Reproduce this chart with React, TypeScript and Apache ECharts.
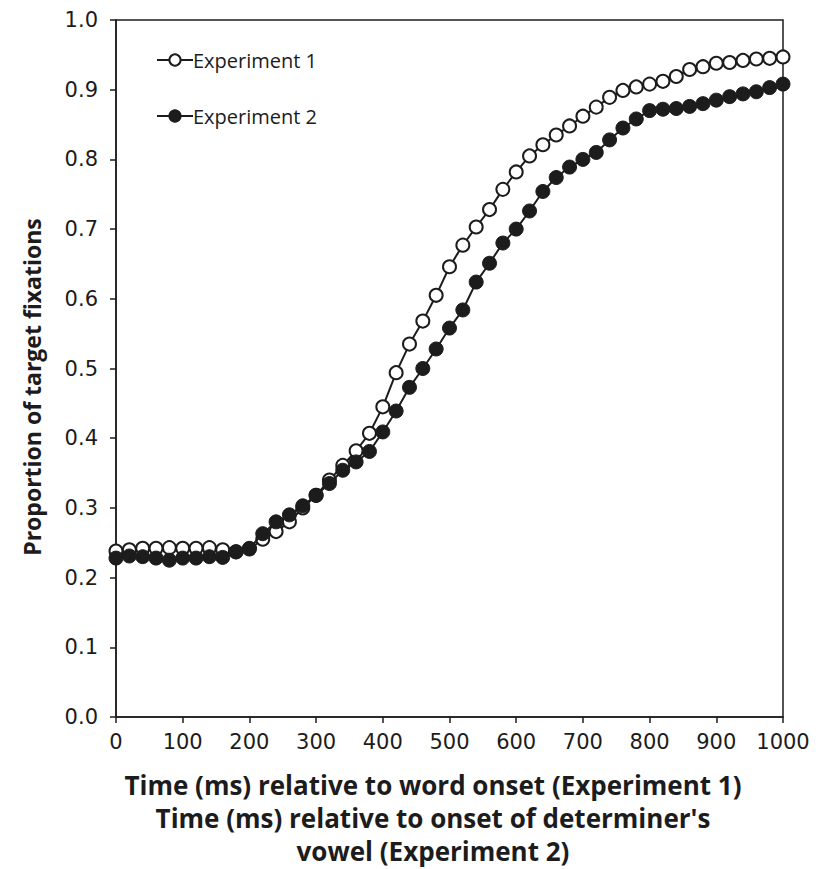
import React, { useEffect, useRef } from "react";
import * as echarts from "echarts";

const times: number[] = [
  0, 20, 40, 60, 80, 100, 120, 140, 160, 180, 200, 220, 240, 260, 280, 300, 320, 340, 360, 380,
  400, 420, 440, 460, 480, 500, 520, 540, 560, 580, 600, 620, 640, 660, 680, 700, 720, 740, 760, 780,
  800, 820, 840, 860, 880, 900, 920, 940, 960, 980, 1000,
];

const experiment1: number[] = [
  0.238, 0.240, 0.242, 0.242, 0.243, 0.242, 0.242, 0.243, 0.240, 0.237, 0.241, 0.255, 0.266, 0.280,
  0.300, 0.318, 0.340, 0.361, 0.382, 0.407, 0.445, 0.494, 0.535, 0.568, 0.605, 0.646, 0.677, 0.703,
  0.728, 0.757, 0.782, 0.805, 0.821, 0.835, 0.848, 0.862, 0.875, 0.889, 0.899, 0.904, 0.908, 0.912,
  0.919, 0.929, 0.933, 0.938, 0.939, 0.942, 0.944, 0.945, 0.947,
];

const experiment2: number[] = [
  0.228, 0.231, 0.230, 0.228, 0.225, 0.228, 0.228, 0.230, 0.229, 0.237, 0.242, 0.263, 0.280, 0.290,
  0.303, 0.318, 0.335, 0.354, 0.366, 0.381, 0.409, 0.439, 0.473, 0.500, 0.528, 0.558, 0.584, 0.624,
  0.651, 0.680, 0.700, 0.726, 0.754, 0.774, 0.789, 0.800, 0.810, 0.828, 0.845, 0.858, 0.870, 0.872,
  0.873, 0.876, 0.880, 0.885, 0.890, 0.894, 0.897, 0.903, 0.908,
];

const seriesNames: string[] = ["Experiment 1", "Experiment 2"];
const xAxisTitle = "Time (ms) relative to word onset (Experiment 1)\nTime (ms) relative to onset of determiner's\nvowel (Experiment 2)";
const yAxisTitle = "Proportion of target fixations";

const INK = "#1c1c1c";

export default function App() {
  const ref = useRef<HTMLDivElement>(null);
  useEffect(() => {
    if (!ref.current) return;
    const chart = echarts.init(ref.current, undefined, { renderer: "svg" });
    const pairs = (vals: number[]) => times.map((t, i) => [t, vals[i]]);
    chart.setOption({
      animation: false,
      backgroundColor: "#ffffff",
      grid: {
        left: 116,
        right: 44,
        top: 20,
        bottom: 152,
        show: true,
        borderColor: INK,
        borderWidth: 1.5,
        backgroundColor: "transparent",
      },
      legend: {
        orient: "vertical",
        left: 151,
        top: 45,
        itemWidth: 36,
        itemHeight: 14,
        itemGap: 36,
        data: seriesNames,
        textStyle: { fontFamily: "Open Sans", fontSize: 20, color: INK, padding: [0, 0, 0, -5] },
      },
      graphic: [
        {
          type: "text",
          x: 433,
          y: 768,
          style: {
            text: xAxisTitle,
            fontFamily: "Open Sans",
            fontWeight: "bold",
            fontSize: 26,
            lineHeight: 33,
            fill: INK,
            align: "center",
            verticalAlign: "top",
          },
        },
        {
          type: "text",
          x: 32,
          y: 387,
          rotation: Math.PI / 2,
          style: {
            text: yAxisTitle,
            fontFamily: "Open Sans",
            fontWeight: "bold",
            fontSize: 23,
            fill: INK,
            align: "center",
            verticalAlign: "middle",
          },
        },
      ],
      xAxis: {
        type: "value",
        min: 0,
        max: 1000,
        interval: 100,
        axisLine: { show: true, lineStyle: { color: INK, width: 1.5 } },
        axisTick: { show: true, length: 6, lineStyle: { color: INK, width: 1.5 } },
        axisLabel: {
          fontFamily: "DejaVu Sans",
          fontSize: 21,
          color: INK,
          margin: 14,
          formatter: (v: number) => String(v),
        },
        splitLine: { show: false },
      },
      yAxis: {
        type: "value",
        min: 0,
        max: 1,
        interval: 0.1,
        axisLine: { show: true, lineStyle: { color: INK, width: 1.5 } },
        axisTick: { show: true, length: 6, lineStyle: { color: INK, width: 1.5 } },
        axisLabel: {
          fontFamily: "DejaVu Sans",
          fontSize: 21,
          color: INK,
          margin: 18,
          formatter: (v: number) => v.toFixed(1),
        },
        splitLine: { show: false },
      },
      series: [
        {
          name: seriesNames[0],
          type: "line",
          data: pairs(experiment1),
          symbol: "circle",
          symbolSize: 13,
          showAllSymbol: true,
          lineStyle: { color: INK, width: 2 },
          itemStyle: { color: "#ffffff", borderColor: INK, borderWidth: 2 },
          z: 2,
        },
        {
          name: seriesNames[1],
          type: "line",
          data: pairs(experiment2),
          symbol: "circle",
          symbolSize: 14,
          showAllSymbol: true,
          lineStyle: { color: INK, width: 2 },
          itemStyle: { color: INK, borderColor: INK, borderWidth: 1 },
          z: 3,
        },
      ],
    });
    return () => chart.dispose();
  }, []);
  return (
    <div
      ref={ref}
      style={{ position: "absolute", left: 0, top: 0, width: 827, height: 869, background: "#fff" }}
    />
  );
}
